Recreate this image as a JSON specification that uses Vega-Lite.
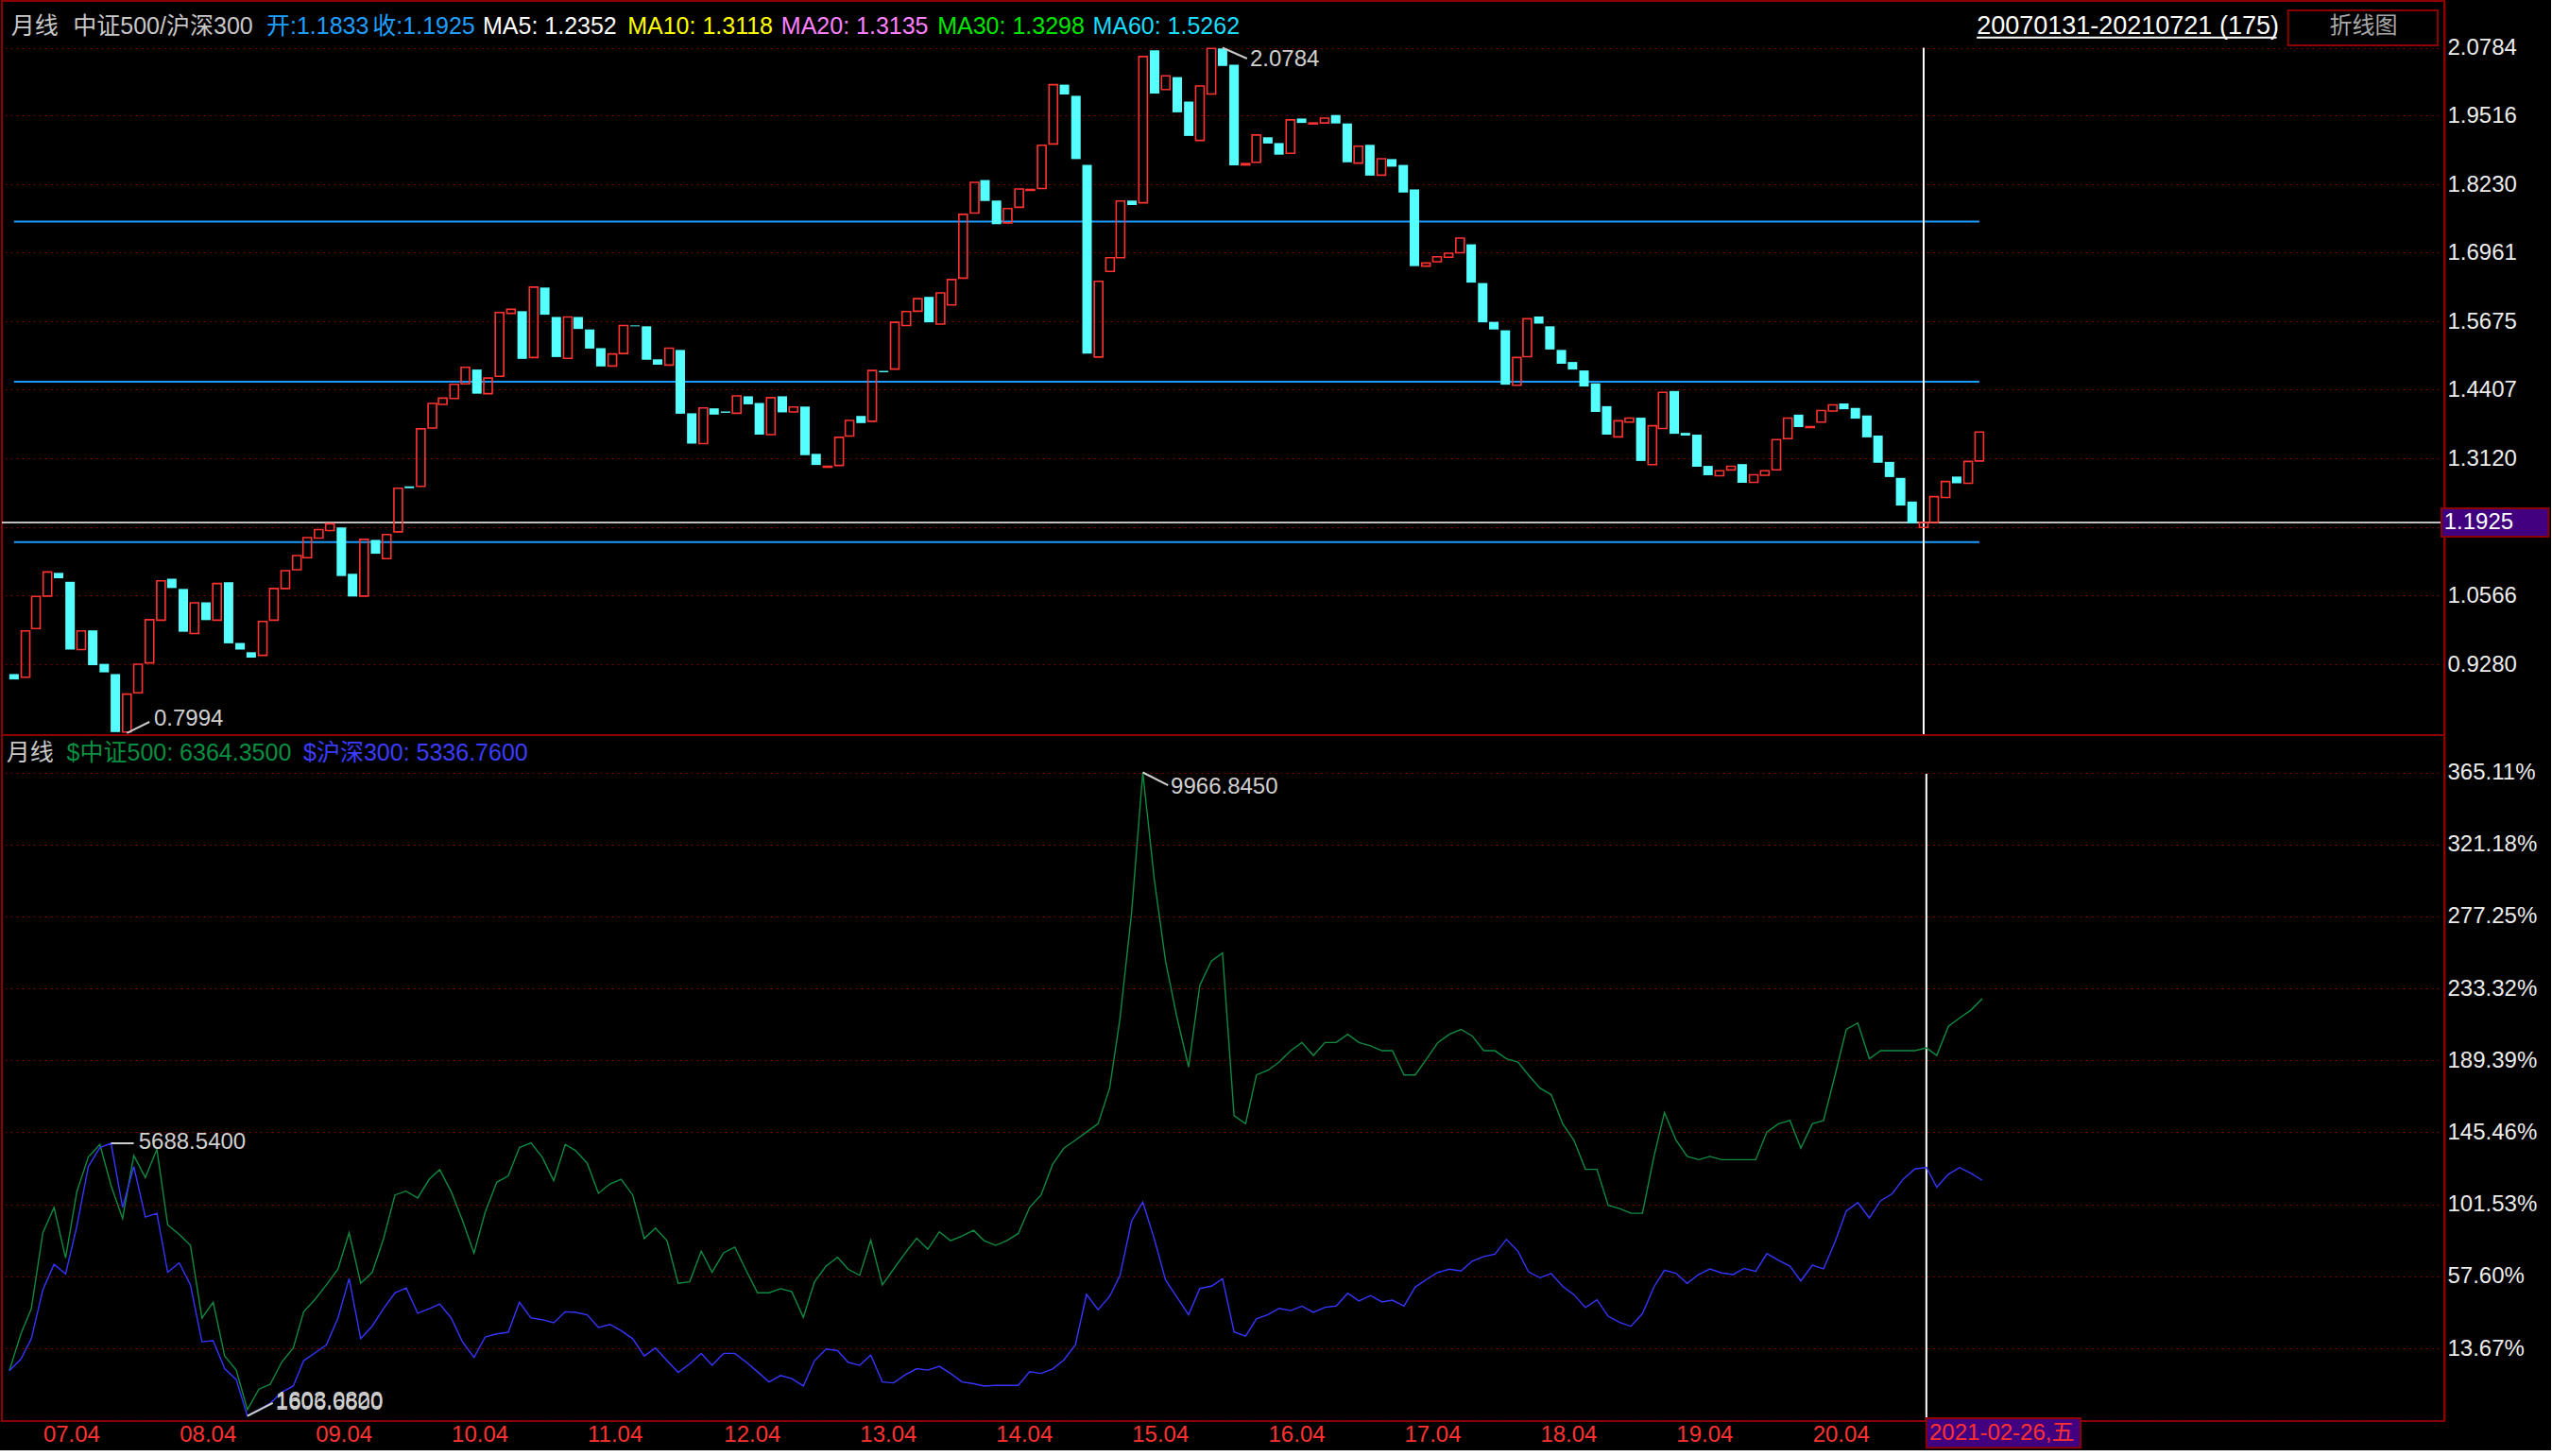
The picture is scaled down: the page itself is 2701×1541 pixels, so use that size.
{
"$schema":"https://vega.github.io/schema/vega-lite/v6.json",
"background":"#000000",
"padding":0,
"spacing":0,
"bounds":"flush",
"config":{
 "view":{"stroke":"#8c0000","strokeWidth":2},
 "axis":{"labelFont":"Liberation Sans, Noto Sans CJK SC","labelFontSize":24,"labelColor":"#ececec","ticks":false,"domainColor":"#8c0000","domainWidth":2,"gridColor":"#800000","gridDash":[2,4],"gridWidth":1},
 "text":{"font":"Liberation Sans, Noto Sans CJK SC","fontSize":25}
},
"datasets":{"m":[
{"d":"2007-01","o":0.9096,"c":0.8996,"g":0,"b":0},
{"d":"2007-02","o":0.9038,"c":0.9903,"g":22.5,"b":7.1},
{"d":"2007-03","o":0.9945,"c":1.0544,"g":37.9,"b":19.6},
{"d":"2007-04","o":1.0552,"c":1.1001,"g":84.2,"b":49.5},
{"d":"2007-05","o":1.0985,"c":1.0885,"g":99.6,"b":64.9},
{"d":"2007-06","o":1.0818,"c":0.9554,"g":68.8,"b":59.1},
{"d":"2007-07","o":0.9554,"c":0.9903,"g":109.2,"b":88.0},
{"d":"2007-08","o":0.9912,"c":0.9262,"g":130.4,"b":124.6},
{"d":"2007-09","o":0.9287,"c":0.9129,"g":138.1,"b":136.2},
{"d":"2007-10","o":0.9096,"c":0.8014,"g":113.0,"b":138.8},
{"d":"2007-11","o":0.8014,"c":0.8722,"g":92.9,"b":99.6},
{"d":"2007-12","o":0.8747,"c":0.9279,"g":131.4,"b":124.6},
{"d":"2008-01","o":0.9304,"c":1.0111,"g":117.9,"b":93.8},
{"d":"2008-02","o":1.0103,"c":1.0835,"g":135.2,"b":96.1},
{"d":"2008-03","o":1.0876,"c":1.0702,"g":89.0,"b":60.1},
{"d":"2008-04","o":1.0685,"c":0.9886,"g":83.2,"b":65.9},
{"d":"2008-05","o":0.9853,"c":1.0427,"g":76.5,"b":52.4},
{"d":"2008-06","o":1.0435,"c":1.0103,"g":32.2,"b":17.7},
{"d":"2008-07","o":1.0103,"c":1.0785,"g":41.8,"b":18.3},
{"d":"2008-08","o":1.0810,"c":0.9670,"g":9.0,"b":1.3},
{"d":"2008-09","o":0.9678,"c":0.9554,"g":0.4,"b":-5.4},
{"d":"2008-10","o":0.9504,"c":0.9404,"g":-23.7,"b":-27.6},
{"d":"2008-11","o":0.9445,"c":1.0078,"g":-11.2,"b":-23.7},
{"d":"2008-12","o":1.0103,"c":1.0693,"g":-8.3,"b":-19.9},
{"d":"2009-01","o":1.0693,"c":1.1026,"g":5.2,"b":-13.1},
{"d":"2009-02","o":1.1043,"c":1.1309,"g":13.9,"b":-9.3},
{"d":"2009-03","o":1.1268,"c":1.1642,"g":36.0,"b":6.2},
{"d":"2009-04","o":1.1634,"c":1.1792,"g":43.7,"b":11.0},
{"d":"2009-05","o":1.1775,"c":1.1900,"g":52.4,"b":15.8},
{"d":"2009-06","o":1.1833,"c":1.0926,"g":62.0,"b":32.2},
{"d":"2009-07","o":1.0968,"c":1.0544,"g":84.2,"b":56.3},
{"d":"2009-08","o":1.0552,"c":1.1609,"g":53.4,"b":19.6},
{"d":"2009-09","o":1.1600,"c":1.1342,"g":60.1,"b":27.3},
{"d":"2009-10","o":1.1251,"c":1.1700,"g":80.3,"b":37.9},
{"d":"2009-11","o":1.1750,"c":1.2565,"g":107.3,"b":47.6},
{"d":"2009-12","o":1.2599,"c":1.2565,"g":109.6,"b":50.5},
{"d":"2010-01","o":1.2599,"c":1.3672,"g":105.4,"b":35.1},
{"d":"2010-02","o":1.3689,"c":1.4146,"g":116.9,"b":37.9},
{"d":"2010-03","o":1.4130,"c":1.4246,"g":122.7,"b":40.8},
{"d":"2010-04","o":1.4238,"c":1.4504,"g":109.2,"b":32.2},
{"d":"2010-05","o":1.4512,"c":1.4820,"g":91.9,"b":17.7},
{"d":"2010-06","o":1.4779,"c":1.4329,"g":71.7,"b":8.1},
{"d":"2010-07","o":1.4329,"c":1.4620,"g":96.7,"b":20.6},
{"d":"2010-08","o":1.4654,"c":1.5844,"g":115.0,"b":22.5},
{"d":"2010-09","o":1.5827,"c":1.5902,"g":118.9,"b":23.5},
{"d":"2010-10","o":1.5868,"c":1.4978,"g":136.2,"b":41.8},
{"d":"2010-11","o":1.5003,"c":1.6318,"g":139.1,"b":32.2},
{"d":"2010-12","o":1.6309,"c":1.5802,"g":130.4,"b":31.2},
{"d":"2011-01","o":1.5760,"c":1.5012,"g":116.0,"b":29.3},
{"d":"2011-02","o":1.4987,"c":1.5760,"g":138.1,"b":36.0},
{"d":"2011-03","o":1.5760,"c":1.5536,"g":134.3,"b":35.6},
{"d":"2011-04","o":1.5527,"c":1.5170,"g":126.6,"b":34.1},
{"d":"2011-05","o":1.5178,"c":1.4837,"g":108.3,"b":26.4},
{"d":"2011-06","o":1.4845,"c":1.5070,"g":114.0,"b":28.3},
{"d":"2011-07","o":1.5078,"c":1.5602,"g":116.9,"b":24.5},
{"d":"2011-08","o":1.5602,"c":1.5586,"g":107.3,"b":19.6},
{"d":"2011-09","o":1.5586,"c":1.4962,"g":80.7,"b":9.0},
{"d":"2011-10","o":1.4970,"c":1.4870,"g":87.1,"b":13.9},
{"d":"2011-11","o":1.4862,"c":1.5178,"g":79.4,"b":6.2},
{"d":"2011-12","o":1.5145,"c":1.3955,"g":53.4,"b":-1.0},
{"d":"2012-01","o":1.3963,"c":1.3397,"g":54.3,"b":4.2},
{"d":"2012-02","o":1.3397,"c":1.4063,"g":73.0,"b":10.6},
{"d":"2012-03","o":1.4055,"c":1.3938,"g":60.1,"b":3.3},
{"d":"2012-04","o":1.3997,"c":1.3972,"g":72.0,"b":10.6},
{"d":"2012-05","o":1.3963,"c":1.4288,"g":75.5,"b":10.6},
{"d":"2012-06","o":1.4280,"c":1.4130,"g":61.0,"b":5.2},
{"d":"2012-07","o":1.4155,"c":1.3564,"g":47.6,"b":-0.6},
{"d":"2012-08","o":1.3564,"c":1.4254,"g":47.6,"b":-6.8},
{"d":"2012-09","o":1.4280,"c":1.3980,"g":50.1,"b":-2.9},
{"d":"2012-10","o":1.3988,"c":1.4080,"g":48.2,"b":-4.8},
{"d":"2012-11","o":1.4088,"c":1.3181,"g":32.6,"b":-9.3},
{"d":"2012-12","o":1.3206,"c":1.2998,"g":54.3,"b":6.2},
{"d":"2013-01","o":1.2956,"c":1.2973,"g":63.9,"b":13.3},
{"d":"2013-02","o":1.2990,"c":1.3514,"g":69.2,"b":12.3},
{"d":"2013-03","o":1.3539,"c":1.3830,"g":62.0,"b":5.2},
{"d":"2013-04","o":1.3913,"c":1.3780,"g":58.2,"b":3.3},
{"d":"2013-05","o":1.3813,"c":1.4762,"g":79.7,"b":9.6},
{"d":"2013-06","o":1.4754,"c":1.4729,"g":52.4,"b":-6.8},
{"d":"2013-07","o":1.4787,"c":1.5660,"g":62.0,"b":-7.4},
{"d":"2013-08","o":1.5602,"c":1.5860,"g":71.7,"b":-2.5},
{"d":"2013-09","o":1.5868,"c":1.6101,"g":80.9,"b":1.3},
{"d":"2013-10","o":1.6135,"c":1.5660,"g":74.2,"b":0.4},
{"d":"2013-11","o":1.5627,"c":1.6210,"g":84.8,"b":2.7},
{"d":"2013-12","o":1.5985,"c":1.6459,"g":79.4,"b":-1.6},
{"d":"2014-01","o":1.6484,"c":1.7674,"g":82.3,"b":-6.8},
{"d":"2014-02","o":1.7699,"c":1.8273,"g":85.7,"b":-7.9},
{"d":"2014-03","o":1.8315,"c":1.7924,"g":79.4,"b":-9.3},
{"d":"2014-04","o":1.7932,"c":1.7491,"g":76.5,"b":-8.9},
{"d":"2014-05","o":1.7516,"c":1.7782,"g":79.4,"b":-8.9},
{"d":"2014-06","o":1.7807,"c":1.8148,"g":83.8,"b":-8.9},
{"d":"2014-07","o":1.8123,"c":1.8140,"g":99.6,"b":-0.6},
{"d":"2014-08","o":1.8157,"c":1.8964,"g":107.3,"b":-1.6},
{"d":"2014-09","o":1.8989,"c":2.0095,"g":125.9,"b":1.1},
{"d":"2014-10","o":2.0095,"c":1.9912,"g":135.8,"b":6.5},
{"d":"2014-11","o":1.9887,"c":1.8706,"g":140.7,"b":15.8},
{"d":"2014-12","o":1.8597,"c":1.5078,"g":145.7,"b":46.6},
{"d":"2015-01","o":1.5012,"c":1.6426,"g":150.7,"b":37.3},
{"d":"2015-02","o":1.6609,"c":1.6867,"g":172.5,"b":45.3},
{"d":"2015-03","o":1.6867,"c":1.7924,"g":215.2,"b":58.2},
{"d":"2015-04","o":1.7932,"c":1.7849,"g":279.7,"b":91.4},
{"d":"2015-05","o":1.7890,"c":2.0619,"g":365.11,"b":102.9},
{"d":"2015-06","o":2.0736,"c":1.9929,"g":299.6,"b":80.4},
{"d":"2015-07","o":2.0004,"c":2.0261,"g":250.0,"b":55.4},
{"d":"2015-08","o":2.0236,"c":1.9579,"g":215.2,"b":44.8},
{"d":"2015-09","o":1.9779,"c":1.9138,"g":185.4,"b":34.2},
{"d":"2015-10","o":1.9055,"c":2.0070,"g":235.1,"b":50.2},
{"d":"2015-11","o":1.9920,"c":2.0770,"g":250.0,"b":51.6},
{"d":"2015-12","o":2.0770,"c":2.0444,"g":254.9,"b":56.2},
{"d":"2016-01","o":2.0469,"c":1.8589,"g":155.6,"b":23.7},
{"d":"2016-02","o":1.8597,"c":1.8622,"g":150.7,"b":21.1},
{"d":"2016-03","o":1.8647,"c":1.9155,"g":180.5,"b":31.7},
{"d":"2016-04","o":1.9113,"c":1.8997,"g":183.4,"b":34.2},
{"d":"2016-05","o":1.9005,"c":1.8789,"g":188.4,"b":38.1},
{"d":"2016-06","o":1.8814,"c":1.9438,"g":195.3,"b":36.7},
{"d":"2016-07","o":1.9463,"c":1.9380,"g":200.3,"b":39.4},
{"d":"2016-08","o":1.9363,"c":1.9380,"g":192.4,"b":35.7},
{"d":"2016-09","o":1.9380,"c":1.9471,"g":200.3,"b":38.7},
{"d":"2016-10","o":1.9529,"c":1.9371,"g":200.3,"b":39.5},
{"d":"2016-11","o":1.9371,"c":1.8647,"g":205.3,"b":47.3},
{"d":"2016-12","o":1.8631,"c":1.8947,"g":200.3,"b":42.6},
{"d":"2017-01","o":1.8972,"c":1.8398,"g":198.3,"b":45.9},
{"d":"2017-02","o":1.8406,"c":1.8714,"g":195.3,"b":42.0},
{"d":"2017-03","o":1.8706,"c":1.8564,"g":195.3,"b":43.1},
{"d":"2017-04","o":1.8597,"c":1.8082,"g":180.5,"b":39.5},
{"d":"2017-05","o":1.8140,"c":1.6709,"g":180.5,"b":51.0},
{"d":"2017-06","o":1.6709,"c":1.6767,"g":190.4,"b":55.8},
{"d":"2017-07","o":1.6792,"c":1.6884,"g":200.3,"b":60.0},
{"d":"2017-08","o":1.6875,"c":1.6950,"g":205.3,"b":62.0},
{"d":"2017-09","o":1.6958,"c":1.7233,"g":208.3,"b":60.9},
{"d":"2017-10","o":1.7116,"c":1.6401,"g":204.3,"b":66.9},
{"d":"2017-11","o":1.6393,"c":1.5660,"g":195.3,"b":69.7},
{"d":"2017-12","o":1.5669,"c":1.5527,"g":195.3,"b":71.1},
{"d":"2018-01","o":1.5511,"c":1.4496,"g":190.4,"b":80.2},
{"d":"2018-02","o":1.4487,"c":1.5003,"g":188.4,"b":72.9},
{"d":"2018-03","o":1.5020,"c":1.5727,"g":180.5,"b":60.4},
{"d":"2018-04","o":1.5769,"c":1.5636,"g":172.5,"b":56.8},
{"d":"2018-05","o":1.5586,"c":1.5153,"g":168.5,"b":59.4},
{"d":"2018-06","o":1.5145,"c":1.4887,"g":150.7,"b":51.5},
{"d":"2018-07","o":1.4920,"c":1.4779,"g":140.7,"b":46.5},
{"d":"2018-08","o":1.4762,"c":1.4462,"g":122.9,"b":38.6},
{"d":"2018-09","o":1.4521,"c":1.3988,"g":122.9,"b":43.3},
{"d":"2018-10","o":1.4096,"c":1.3564,"g":101.0,"b":33.3},
{"d":"2018-11","o":1.3522,"c":1.3822,"g":99.0,"b":29.5},
{"d":"2018-12","o":1.3797,"c":1.3872,"g":96.1,"b":27.1},
{"d":"2019-01","o":1.3880,"c":1.3073,"g":96.1,"b":34.9},
{"d":"2019-02","o":1.3006,"c":1.3730,"g":130.8,"b":51.2},
{"d":"2019-03","o":1.3680,"c":1.4354,"g":157.6,"b":61.4},
{"d":"2019-04","o":1.4379,"c":1.3580,"g":140.7,"b":59.5},
{"d":"2019-05","o":1.3597,"c":1.3547,"g":130.8,"b":53.3},
{"d":"2019-06","o":1.3564,"c":1.2965,"g":128.8,"b":58.8},
{"d":"2019-07","o":1.2981,"c":1.2807,"g":130.8,"b":62.1},
{"d":"2019-08","o":1.2798,"c":1.2890,"g":128.8,"b":59.7},
{"d":"2019-09","o":1.2906,"c":1.2973,"g":128.8,"b":58.7},
{"d":"2019-10","o":1.3015,"c":1.2665,"g":128.8,"b":62.5},
{"d":"2019-11","o":1.2674,"c":1.2815,"g":128.8,"b":60.6},
{"d":"2019-12","o":1.2807,"c":1.2890,"g":145.7,"b":71.5},
{"d":"2020-01","o":1.2907,"c":1.3472,"g":150.7,"b":67.4},
{"d":"2020-02","o":1.3489,"c":1.3872,"g":152.7,"b":63.8},
{"d":"2020-03","o":1.3938,"c":1.3705,"g":135.8,"b":54.8},
{"d":"2020-04","o":1.3697,"c":1.3714,"g":150.7,"b":64.4},
{"d":"2020-05","o":1.3797,"c":1.4013,"g":152.7,"b":62.2},
{"d":"2020-06","o":1.4005,"c":1.4121,"g":180.5,"b":78.7},
{"d":"2020-07","o":1.4146,"c":1.4038,"g":208.3,"b":97.5},
{"d":"2020-08","o":1.4063,"c":1.3863,"g":212.2,"b":102.6},
{"d":"2020-09","o":1.3922,"c":1.3514,"g":190.4,"b":93.3},
{"d":"2020-10","o":1.3547,"c":1.3040,"g":195.3,"b":103.7},
{"d":"2020-11","o":1.3056,"c":1.2773,"g":195.3,"b":108.0},
{"d":"2020-12","o":1.2757,"c":1.2241,"g":195.3,"b":117.0},
{"d":"2021-01","o":1.2316,"c":1.1908,"g":195.3,"b":123.1},
{"d":"2021-02","o":1.1833,"c":1.1925,"g":197.0,"b":124.1},
{"d":"2021-03","o":1.1925,"c":1.2407,"g":192.4,"b":112.0},
{"d":"2021-04","o":1.2391,"c":1.2690,"g":210.2,"b":119.9},
{"d":"2021-05","o":1.2782,"c":1.2657,"g":215.2,"b":124.0},
{"d":"2021-06","o":1.2657,"c":1.3065,"g":220.2,"b":120.4},
{"d":"2021-07","o":1.3073,"c":1.3614,"g":227.1,"b":116.2}
]},
"vconcat":[
{"width":2585,"height":777,"resolve":{"axis":{"x":"independent","y":"independent"}},"layer":[
 {"data":{"values":[{"lvl":1.7541},{"lvl":1.4554},{"lvl":1.1559}]},"mark":{"type":"rule","color":"#1a9cff","strokeWidth":2},
  "encoding":{"x":{"datum":{"year":2007,"month":1,"date":1,"utc":true},"type":"temporal","scale":{"type":"utc","domain":[{"year":2006,"month":12,"date":12,"utc":true},{"year":2024,"month":11,"date":22,"utc":true}]},"axis":null},
   "x2":{"datum":{"year":2021,"month":7,"date":1,"utc":true}},
   "y":{"field":"lvl","type":"quantitative","scale":{"domain":[0.7958,2.1657],"nice":false,"zero":false},"axis":null}}},
 {"data":{"values":[{}]},"mark":{"type":"rule","color":"#ffffff","strokeWidth":1.5},
  "encoding":{"y":{"datum":1.1925,"type":"quantitative","scale":{"domain":[0.7958,2.1657],"nice":false,"zero":false},"axis":null}}},
 {"data":{"values":[{}]},"mark":{"type":"rule","color":"#ffffff","strokeWidth":2},
  "encoding":{"x":{"datum":{"year":2021,"month":2,"date":1,"utc":true},"type":"temporal","scale":{"type":"utc","domain":[{"year":2006,"month":12,"date":12,"utc":true},{"year":2024,"month":11,"date":22,"utc":true}]},"axis":null},
   "y":{"datum":2.0784,"type":"quantitative","scale":{"domain":[0.7958,2.1657],"nice":false,"zero":false},"axis":null},"y2":{"datum":0.7958}}},
 {"data":{"name":"m"},"transform":[{"filter":"datum.c < datum.o"}],"mark":{"type":"bar","size":10,"color":"#55ffff"},
  "encoding":{"x":{"field":"d","type":"temporal","scale":{"type":"utc","domain":[{"year":2006,"month":12,"date":12,"utc":true},{"year":2024,"month":11,"date":22,"utc":true}]},"axis":null},
   "y":{"field":"o","type":"quantitative","scale":{"domain":[0.7958,2.1657],"nice":false,"zero":false},
    "axis":{"orient":"right","title":null,"values":[0.928,1.0566,1.1843,1.312,1.4407,1.5675,1.6961,1.823,1.9516,2.0784],"labelExpr":"datum.value == 1.1843 ? '' : format(datum.value, '.4f')","grid":true,"labelPadding":3,"labelOverlap":false,"labelFlush":false}},
   "y2":{"field":"c"}}},
 {"data":{"name":"m"},"transform":[{"filter":"datum.c >= datum.o"}],"mark":{"type":"bar","size":9,"filled":false,"color":"#ff3232","strokeWidth":1.6},
  "encoding":{"x":{"field":"d","type":"temporal","scale":{"type":"utc","domain":[{"year":2006,"month":12,"date":12,"utc":true},{"year":2024,"month":11,"date":22,"utc":true}]},"axis":null},
   "y":{"field":"o","type":"quantitative","scale":{"domain":[0.7958,2.1657],"nice":false,"zero":false},"axis":null},
   "y2":{"field":"c"}}},
 {"data":{"values":[{}]},"mark":{"type":"rect","fill":"#400080","stroke":"#8c0000","strokeWidth":2},
  "encoding":{"x":{"datum":{"year":2024,"month":11,"date":27,"utc":true},"type":"temporal","scale":{"type":"utc","domain":[{"year":2006,"month":12,"date":12,"utc":true},{"year":2024,"month":11,"date":22,"utc":true}]},"axis":null},
   "x2":{"datum":{"year":2025,"month":9,"date":12,"utc":true}},
   "y":{"datum":1.2189,"type":"quantitative","scale":{"domain":[0.7958,2.1657],"nice":false,"zero":false},"axis":null},"y2":{"datum":1.166}}},
 {"data":{"values":[{}]},"mark":{"type":"rect","filled":false,"stroke":"#8c0000","strokeWidth":2},
  "encoding":{"x":{"datum":{"year":2023,"month":10,"date":11,"utc":true},"type":"temporal","scale":{"type":"utc","domain":[{"year":2006,"month":12,"date":12,"utc":true},{"year":2024,"month":11,"date":22,"utc":true}]},"axis":null},
   "x2":{"datum":{"year":2024,"month":11,"date":17,"utc":true}},
   "y":{"datum":2.148,"type":"quantitative","scale":{"domain":[0.7958,2.1657],"nice":false,"zero":false},"axis":null},"y2":{"datum":2.0828}}},
 {"data":{"values":[{}]},"mark":{"type":"rule","color":"#ffffff","strokeWidth":2},
  "encoding":{"x":{"datum":{"year":2021,"month":6,"date":24,"utc":true},"type":"temporal","scale":{"type":"utc","domain":[{"year":2006,"month":12,"date":12,"utc":true},{"year":2024,"month":11,"date":22,"utc":true}]},"axis":null},
   "x2":{"datum":{"year":2023,"month":9,"date":10,"utc":true}},
   "y":{"datum":2.0974,"type":"quantitative","scale":{"domain":[0.7958,2.1657],"nice":false,"zero":false},"axis":null}}},
 {"data":{"values":[{}]},"mark":{"type":"rule","color":"#c8c8c8","strokeWidth":2},
  "encoding":{"x":{"datum":{"year":2015,"month":12,"date":1,"utc":true},"type":"temporal","scale":{"type":"utc","domain":[{"year":2006,"month":12,"date":12,"utc":true},{"year":2024,"month":11,"date":22,"utc":true}]},"axis":null},
   "x2":{"datum":{"year":2016,"month":2,"date":5,"utc":true}},
   "y":{"datum":2.0784,"type":"quantitative","scale":{"domain":[0.7958,2.1657],"nice":false,"zero":false},"axis":null},"y2":{"datum":2.0581}}},
 {"data":{"values":[{}]},"mark":{"type":"rule","color":"#c8c8c8","strokeWidth":2},
  "encoding":{"x":{"datum":{"year":2007,"month":11,"date":1,"utc":true},"type":"temporal","scale":{"type":"utc","domain":[{"year":2006,"month":12,"date":12,"utc":true},{"year":2024,"month":11,"date":22,"utc":true}]},"axis":null},
   "x2":{"datum":{"year":2008,"month":1,"date":1,"utc":true}},
   "y":{"datum":0.7994,"type":"quantitative","scale":{"domain":[0.7958,2.1657],"nice":false,"zero":false},"axis":null},"y2":{"datum":0.8205}}},
 {"data":{"values":[{}]},"mark":{"type":"text","align":"left","baseline":"middle","color":"#c8c8c8"},
  "encoding":{"x":{"datum":{"year":2006,"month":12,"date":24,"utc":true},"type":"temporal","scale":{"type":"utc","domain":[{"year":2006,"month":12,"date":12,"utc":true},{"year":2024,"month":11,"date":22,"utc":true}]},"axis":null},
   "y":{"datum":2.1181,"type":"quantitative","scale":{"domain":[0.7958,2.1657],"nice":false,"zero":false},"axis":null},"text":{"value":"月线"}}},
 {"data":{"values":[{}]},"mark":{"type":"text","align":"left","baseline":"middle","color":"#c8c8c8"},
  "encoding":{"x":{"datum":{"year":2007,"month":6,"date":9,"utc":true},"type":"temporal","scale":{"type":"utc","domain":[{"year":2006,"month":12,"date":12,"utc":true},{"year":2024,"month":11,"date":22,"utc":true}]},"axis":null},
   "y":{"datum":2.1181,"type":"quantitative","scale":{"domain":[0.7958,2.1657],"nice":false,"zero":false},"axis":null},"text":{"value":"中证500/沪深300"}}},
 {"data":{"values":[{}]},"mark":{"type":"text","align":"left","baseline":"middle","color":"#1e9fff"},
  "encoding":{"x":{"datum":{"year":2008,"month":11,"date":11,"utc":true},"type":"temporal","scale":{"type":"utc","domain":[{"year":2006,"month":12,"date":12,"utc":true},{"year":2024,"month":11,"date":22,"utc":true}]},"axis":null},
   "y":{"datum":2.1181,"type":"quantitative","scale":{"domain":[0.7958,2.1657],"nice":false,"zero":false},"axis":null},"text":{"value":"开:1.1833"}}},
 {"data":{"values":[{}]},"mark":{"type":"text","align":"left","baseline":"middle","color":"#1e9fff"},
  "encoding":{"x":{"datum":{"year":2009,"month":8,"date":24,"utc":true},"type":"temporal","scale":{"type":"utc","domain":[{"year":2006,"month":12,"date":12,"utc":true},{"year":2024,"month":11,"date":22,"utc":true}]},"axis":null},
   "y":{"datum":2.1181,"type":"quantitative","scale":{"domain":[0.7958,2.1657],"nice":false,"zero":false},"axis":null},"text":{"value":"收:1.1925"}}},
 {"data":{"values":[{}]},"mark":{"type":"text","align":"left","baseline":"middle","color":"#ffffff"},
  "encoding":{"x":{"datum":{"year":2010,"month":6,"date":17,"utc":true},"type":"temporal","scale":{"type":"utc","domain":[{"year":2006,"month":12,"date":12,"utc":true},{"year":2024,"month":11,"date":22,"utc":true}]},"axis":null},
   "y":{"datum":2.1181,"type":"quantitative","scale":{"domain":[0.7958,2.1657],"nice":false,"zero":false},"axis":null},"text":{"value":"MA5: 1.2352"}}},
 {"data":{"values":[{}]},"mark":{"type":"text","align":"left","baseline":"middle","color":"#ffff00"},
  "encoding":{"x":{"datum":{"year":2011,"month":7,"date":12,"utc":true},"type":"temporal","scale":{"type":"utc","domain":[{"year":2006,"month":12,"date":12,"utc":true},{"year":2024,"month":11,"date":22,"utc":true}]},"axis":null},
   "y":{"datum":2.1181,"type":"quantitative","scale":{"domain":[0.7958,2.1657],"nice":false,"zero":false},"axis":null},"text":{"value":"MA10: 1.3118"}}},
 {"data":{"values":[{}]},"mark":{"type":"text","align":"left","baseline":"middle","color":"#ff80ff"},
  "encoding":{"x":{"datum":{"year":2012,"month":8,"date":29,"utc":true},"type":"temporal","scale":{"type":"utc","domain":[{"year":2006,"month":12,"date":12,"utc":true},{"year":2024,"month":11,"date":22,"utc":true}]},"axis":null},
   "y":{"datum":2.1181,"type":"quantitative","scale":{"domain":[0.7958,2.1657],"nice":false,"zero":false},"axis":null},"text":{"value":"MA20: 1.3135"}}},
 {"data":{"values":[{}]},"mark":{"type":"text","align":"left","baseline":"middle","color":"#00e600"},
  "encoding":{"x":{"datum":{"year":2013,"month":10,"date":24,"utc":true},"type":"temporal","scale":{"type":"utc","domain":[{"year":2006,"month":12,"date":12,"utc":true},{"year":2024,"month":11,"date":22,"utc":true}]},"axis":null},
   "y":{"datum":2.1181,"type":"quantitative","scale":{"domain":[0.7958,2.1657],"nice":false,"zero":false},"axis":null},"text":{"value":"MA30: 1.3298"}}},
 {"data":{"values":[{}]},"mark":{"type":"text","align":"left","baseline":"middle","color":"#19dcff"},
  "encoding":{"x":{"datum":{"year":2014,"month":12,"date":16,"utc":true},"type":"temporal","scale":{"type":"utc","domain":[{"year":2006,"month":12,"date":12,"utc":true},{"year":2024,"month":11,"date":22,"utc":true}]},"axis":null},
   "y":{"datum":2.1181,"type":"quantitative","scale":{"domain":[0.7958,2.1657],"nice":false,"zero":false},"axis":null},"text":{"value":"MA60: 1.5262"}}},
 {"data":{"values":[{}]},"mark":{"type":"text","align":"left","baseline":"middle","color":"#ffffff","fontSize":27},
  "encoding":{"x":{"datum":{"year":2021,"month":6,"date":24,"utc":true},"type":"temporal","scale":{"type":"utc","domain":[{"year":2006,"month":12,"date":12,"utc":true},{"year":2024,"month":11,"date":22,"utc":true}]},"axis":null},
   "y":{"datum":2.1181,"type":"quantitative","scale":{"domain":[0.7958,2.1657],"nice":false,"zero":false},"axis":null},"text":{"value":"20070131-20210721 (175)"}}},
 {"data":{"values":[{}]},"mark":{"type":"text","align":"center","baseline":"middle","color":"#a8a8a8","fontSize":24},
  "encoding":{"x":{"datum":{"year":2024,"month":5,"date":1,"utc":true},"type":"temporal","scale":{"type":"utc","domain":[{"year":2006,"month":12,"date":12,"utc":true},{"year":2024,"month":11,"date":22,"utc":true}]},"axis":null},
   "y":{"datum":2.1181,"type":"quantitative","scale":{"domain":[0.7958,2.1657],"nice":false,"zero":false},"axis":null},"text":{"value":"折线图"}}},
 {"data":{"values":[{}]},"mark":{"type":"text","align":"left","baseline":"middle","color":"#d0d0d0","fontSize":24},
  "encoding":{"x":{"datum":{"year":2016,"month":2,"date":13,"utc":true},"type":"temporal","scale":{"type":"utc","domain":[{"year":2006,"month":12,"date":12,"utc":true},{"year":2024,"month":11,"date":22,"utc":true}]},"axis":null},
   "y":{"datum":2.0564,"type":"quantitative","scale":{"domain":[0.7958,2.1657],"nice":false,"zero":false},"axis":null},"text":{"value":"2.0784"}}},
 {"data":{"values":[{}]},"mark":{"type":"text","align":"left","baseline":"middle","color":"#d0d0d0","fontSize":24},
  "encoding":{"x":{"datum":{"year":2008,"month":1,"date":13,"utc":true},"type":"temporal","scale":{"type":"utc","domain":[{"year":2006,"month":12,"date":12,"utc":true},{"year":2024,"month":11,"date":22,"utc":true}]},"axis":null},
   "y":{"datum":0.8258,"type":"quantitative","scale":{"domain":[0.7958,2.1657],"nice":false,"zero":false},"axis":null},"text":{"value":"0.7994"}}},
 {"data":{"values":[{}]},"mark":{"type":"text","align":"left","baseline":"middle","color":"#ffffff","fontSize":24},
  "encoding":{"x":{"datum":{"year":2024,"month":12,"date":4,"utc":true},"type":"temporal","scale":{"type":"utc","domain":[{"year":2006,"month":12,"date":12,"utc":true},{"year":2024,"month":11,"date":22,"utc":true}]},"axis":null},
   "y":{"datum":1.1925,"type":"quantitative","scale":{"domain":[0.7958,2.1657],"nice":false,"zero":false},"axis":null},"text":{"value":"1.1925"}}}
]},
{"width":2585,"height":726,"resolve":{"axis":{"x":"independent","y":"independent"}},"layer":[
 {"data":{"values":[{}]},"mark":{"type":"rule","color":"#ffffff","strokeWidth":2},
  "encoding":{"x":{"datum":{"year":2021,"month":2,"date":1,"utc":true},"type":"temporal","scale":{"type":"utc","domain":[{"year":2006,"month":12,"date":12,"utc":true},{"year":2024,"month":11,"date":22,"utc":true}]},"axis":null},
   "y":{"datum":364.3,"type":"quantitative","scale":{"domain":[-30.67,387.89],"nice":false,"zero":false},"axis":null},"y2":{"datum":-30.67}}},
 {"data":{"name":"m"},"mark":{"type":"line","color":"#0f8a40","strokeWidth":1.4},
  "encoding":{"x":{"field":"d","type":"temporal","scale":{"type":"utc","domain":[{"year":2006,"month":12,"date":12,"utc":true},{"year":2024,"month":11,"date":22,"utc":true}]},
    "axis":{"orient":"bottom","title":null,"format":"%y.%m","labelColor":"#ff3232","labelAlign":"left","labelDx":1,"labelPadding":2,"labelBaseline":"top","domain":false,"grid":false,"labelFlush":false,"labelOverlap":false,
     "values":[{"year":2007,"month":4,"date":1,"utc":true},{"year":2008,"month":4,"date":1,"utc":true},{"year":2009,"month":4,"date":1,"utc":true},{"year":2010,"month":4,"date":1,"utc":true},{"year":2011,"month":4,"date":1,"utc":true},{"year":2012,"month":4,"date":1,"utc":true},{"year":2013,"month":4,"date":1,"utc":true},{"year":2014,"month":4,"date":1,"utc":true},{"year":2015,"month":4,"date":1,"utc":true},{"year":2016,"month":4,"date":1,"utc":true},{"year":2017,"month":4,"date":1,"utc":true},{"year":2018,"month":4,"date":1,"utc":true},{"year":2019,"month":4,"date":1,"utc":true},{"year":2020,"month":4,"date":1,"utc":true}]}},
   "y":{"field":"g","type":"quantitative","scale":{"domain":[-30.67,387.89],"nice":false,"zero":false},
    "axis":{"orient":"right","title":null,"values":[-30.26,13.67,57.6,101.53,145.46,189.39,233.32,277.25,321.18,365.11],"labelExpr":"datum.value < -30 ? '' : format(datum.value, '.2f') + '%'","grid":true,"labelPadding":3,"labelOverlap":false,"labelFlush":false}}}},
 {"data":{"name":"m"},"mark":{"type":"line","color":"#3535ff","strokeWidth":1.4},
  "encoding":{"x":{"field":"d","type":"temporal","scale":{"type":"utc","domain":[{"year":2006,"month":12,"date":12,"utc":true},{"year":2024,"month":11,"date":22,"utc":true}]},"axis":null},
   "y":{"field":"b","type":"quantitative","scale":{"domain":[-30.67,387.89],"nice":false,"zero":false},"axis":null}}},
 {"data":{"values":[{}]},"mark":{"type":"rule","color":"#d0d0d0","strokeWidth":2},
  "encoding":{"x":{"datum":{"year":2015,"month":5,"date":1,"utc":true},"type":"temporal","scale":{"type":"utc","domain":[{"year":2006,"month":12,"date":12,"utc":true},{"year":2024,"month":11,"date":22,"utc":true}]},"axis":null},
   "x2":{"datum":{"year":2015,"month":7,"date":8,"utc":true}},
   "y":{"datum":365.11,"type":"quantitative","scale":{"domain":[-30.67,387.89],"nice":false,"zero":false},"axis":null},"y2":{"datum":357.3}}},
 {"data":{"values":[{}]},"mark":{"type":"rule","color":"#d0d0d0","strokeWidth":2},
  "encoding":{"x":{"datum":{"year":2007,"month":10,"date":1,"utc":true},"type":"temporal","scale":{"type":"utc","domain":[{"year":2006,"month":12,"date":12,"utc":true},{"year":2024,"month":11,"date":22,"utc":true}]},"axis":null},
   "x2":{"datum":{"year":2007,"month":12,"date":1,"utc":true}},
   "y":{"datum":138.8,"type":"quantitative","scale":{"domain":[-30.67,387.89],"nice":false,"zero":false},"axis":null}}},
 {"data":{"values":[{}]},"mark":{"type":"rule","color":"#d0d0d0","strokeWidth":2},
  "encoding":{"x":{"datum":{"year":2008,"month":10,"date":1,"utc":true},"type":"temporal","scale":{"type":"utc","domain":[{"year":2006,"month":12,"date":12,"utc":true},{"year":2024,"month":11,"date":22,"utc":true}]},"axis":null},
   "x2":{"datum":{"year":2008,"month":12,"date":8,"utc":true}},
   "y":{"datum":-27.6,"type":"quantitative","scale":{"domain":[-30.67,387.89],"nice":false,"zero":false},"axis":null},"y2":{"datum":-19.7}}},
 {"data":{"values":[{}]},"mark":{"type":"text","align":"left","baseline":"middle","color":"#d0d0d0","fontSize":24},
  "encoding":{"x":{"datum":{"year":2015,"month":7,"date":15,"utc":true},"type":"temporal","scale":{"type":"utc","domain":[{"year":2006,"month":12,"date":12,"utc":true},{"year":2024,"month":11,"date":22,"utc":true}]},"axis":null},
   "y":{"datum":356.2,"type":"quantitative","scale":{"domain":[-30.67,387.89],"nice":false,"zero":false},"axis":null},"text":{"value":"9966.8450"}}},
 {"data":{"values":[{}]},"mark":{"type":"text","align":"left","baseline":"middle","color":"#d0d0d0","fontSize":24},
  "encoding":{"x":{"datum":{"year":2007,"month":12,"date":14,"utc":true},"type":"temporal","scale":{"type":"utc","domain":[{"year":2006,"month":12,"date":12,"utc":true},{"year":2024,"month":11,"date":22,"utc":true}]},"axis":null},
   "y":{"datum":139.6,"type":"quantitative","scale":{"domain":[-30.67,387.89],"nice":false,"zero":false},"axis":null},"text":{"value":"5688.5400"}}},
 {"data":{"values":[{}]},"mark":{"type":"text","align":"left","baseline":"middle","color":"#d0d0d0","fontSize":24},
  "encoding":{"x":{"datum":{"year":2008,"month":12,"date":16,"utc":true},"type":"temporal","scale":{"type":"utc","domain":[{"year":2006,"month":12,"date":12,"utc":true},{"year":2024,"month":11,"date":22,"utc":true}]},"axis":null},
   "y":{"datum":-18.6,"type":"quantitative","scale":{"domain":[-30.67,387.89],"nice":false,"zero":false},"axis":null},"text":{"value":"1603.0820"}}},
 {"data":{"values":[{}]},"mark":{"type":"text","align":"left","baseline":"middle","color":"#d0d0d0","fontSize":24},
  "encoding":{"x":{"datum":{"year":2008,"month":12,"date":16,"utc":true},"type":"temporal","scale":{"type":"utc","domain":[{"year":2006,"month":12,"date":12,"utc":true},{"year":2024,"month":11,"date":22,"utc":true}]},"axis":null},
   "y":{"datum":-19.6,"type":"quantitative","scale":{"domain":[-30.67,387.89],"nice":false,"zero":false},"axis":null},"text":{"value":"1606.6600"}}},
 {"data":{"values":[{}]},"mark":{"type":"text","align":"left","baseline":"middle","color":"#c8c8c8"},
  "encoding":{"x":{"datum":{"year":2006,"month":12,"date":24,"utc":true},"type":"temporal","scale":{"type":"utc","domain":[{"year":2006,"month":12,"date":12,"utc":true},{"year":2024,"month":11,"date":22,"utc":true}]},"axis":null},
   "y":{"datum":376.9,"type":"quantitative","scale":{"domain":[-30.67,387.89],"nice":false,"zero":false},"axis":null},"text":{"value":"月线"}}},
 {"data":{"values":[{}]},"mark":{"type":"text","align":"left","baseline":"middle","color":"#0a9040"},
  "encoding":{"x":{"datum":{"year":2007,"month":6,"date":4,"utc":true},"type":"temporal","scale":{"type":"utc","domain":[{"year":2006,"month":12,"date":12,"utc":true},{"year":2024,"month":11,"date":22,"utc":true}]},"axis":null},
   "y":{"datum":376.9,"type":"quantitative","scale":{"domain":[-30.67,387.89],"nice":false,"zero":false},"axis":null},"text":{"value":"$中证500: 6364.3500"}}},
 {"data":{"values":[{}]},"mark":{"type":"text","align":"left","baseline":"middle","color":"#3c3cff"},
  "encoding":{"x":{"datum":{"year":2009,"month":2,"date":28,"utc":true},"type":"temporal","scale":{"type":"utc","domain":[{"year":2006,"month":12,"date":12,"utc":true},{"year":2024,"month":11,"date":22,"utc":true}]},"axis":null},
   "y":{"datum":376.9,"type":"quantitative","scale":{"domain":[-30.67,387.89],"nice":false,"zero":false},"axis":null},"text":{"value":"$沪深300: 5336.7600"}}},
 {"data":{"values":[{}]},"mark":{"type":"rect","fill":"#400080","stroke":"#8c0000","strokeWidth":2},
  "encoding":{"x":{"datum":{"year":2021,"month":2,"date":1,"utc":true},"type":"temporal","scale":{"type":"utc","domain":[{"year":2006,"month":12,"date":12,"utc":true},{"year":2024,"month":11,"date":22,"utc":true}]},"axis":null},
   "x2":{"datum":{"year":2022,"month":3,"date":22,"utc":true}},
   "y":{"datum":-28.9,"type":"quantitative","scale":{"domain":[-30.67,387.89],"nice":false,"zero":false},"axis":null},"y2":{"datum":-47}}},
 {"data":{"values":[{}]},"mark":{"type":"text","align":"left","baseline":"middle","color":"#ff3030","fontSize":24},
  "encoding":{"x":{"datum":{"year":2021,"month":2,"date":9,"utc":true},"type":"temporal","scale":{"type":"utc","domain":[{"year":2006,"month":12,"date":12,"utc":true},{"year":2024,"month":11,"date":22,"utc":true}]},"axis":null},
   "y":{"datum":-38.2,"type":"quantitative","scale":{"domain":[-30.67,387.89],"nice":false,"zero":false},"axis":null},"text":{"value":"2021-02-26,五"}}}
]}
]
}
